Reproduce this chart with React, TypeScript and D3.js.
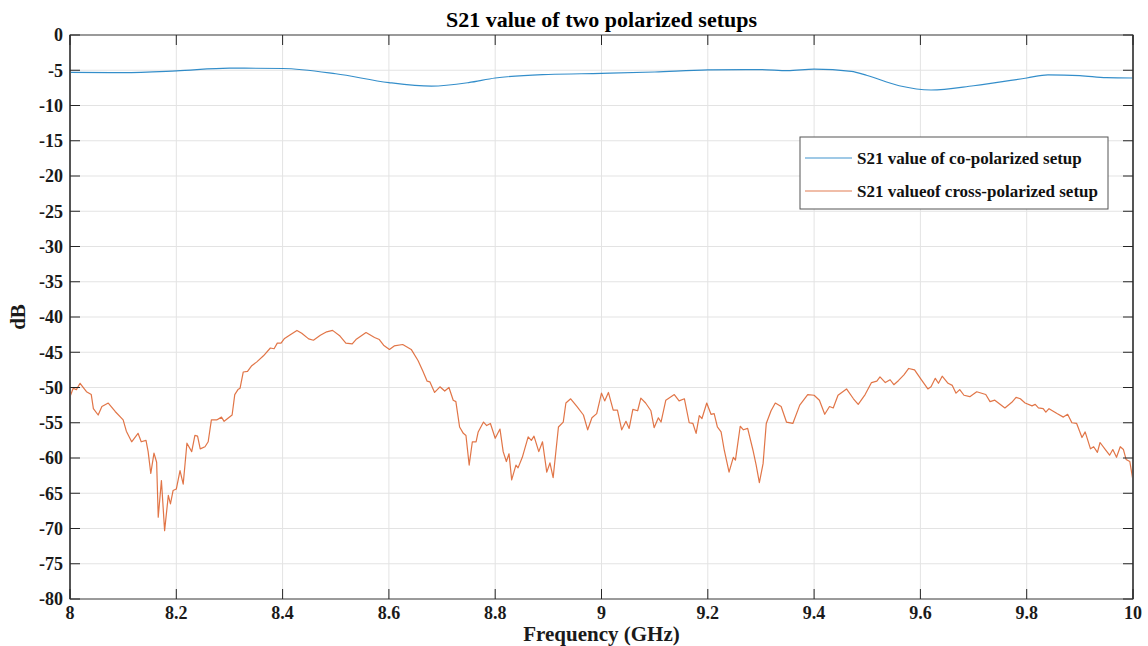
import React from 'react';
import * as d3 from 'd3';

// frequency (GHz), S21 (dB)
const coPolarized: [number, number][] = [
    [8.0, -5.3], [8.1, -5.35], [8.2, -5.1], [8.3, -4.7], [8.4, -4.75], [8.5, -5.5],
    [8.6, -6.75], [8.68, -7.25], [8.75, -6.75], [8.8, -6.1], [8.9, -5.6], [9.0, -5.45],
    [9.1, -5.25], [9.2, -4.95], [9.3, -4.9], [9.35, -5.05], [9.4, -4.85], [9.47, -5.15],
    [9.5, -5.75], [9.56, -7.2], [9.62, -7.8], [9.7, -7.2], [9.8, -6.1], [9.84, -5.65],
    [9.9, -5.75], [9.95, -6.05], [10.0, -6.1],
];

const crossPolarized: [number, number][] = [
    [8.000, -51.3], [8.006, -50.1], [8.012, -50.3], [8.019, -49.4], [8.024, -49.9], [8.031, -50.6],
    [8.040, -51.0], [8.044, -53.0], [8.053, -53.9], [8.060, -52.7], [8.072, -52.2], [8.085, -53.4],
    [8.100, -54.6], [8.106, -56.2], [8.116, -57.7], [8.128, -56.5], [8.134, -57.7], [8.143, -57.5],
    [8.147, -59.1], [8.152, -62.2], [8.158, -59.3], [8.163, -60.6], [8.166, -68.4], [8.172, -63.2],
    [8.178, -70.3], [8.185, -65.3], [8.189, -66.5], [8.194, -64.6], [8.200, -64.4], [8.207, -61.8],
    [8.213, -63.7], [8.220, -57.9], [8.229, -59.1], [8.235, -56.8], [8.240, -56.9], [8.245, -58.7],
    [8.254, -58.4], [8.260, -57.7], [8.266, -54.6], [8.276, -54.6], [8.285, -54.2], [8.290, -54.8],
    [8.305, -53.9], [8.310, -51.0], [8.316, -50.3], [8.320, -50.1], [8.326, -47.8], [8.334, -47.7],
    [8.342, -46.9], [8.351, -46.4], [8.364, -45.5], [8.377, -44.4], [8.384, -44.5], [8.390, -43.7],
    [8.397, -43.7], [8.403, -43.1], [8.413, -42.6], [8.427, -41.9], [8.436, -42.3], [8.449, -43.1],
    [8.458, -43.3], [8.471, -42.6], [8.483, -42.1], [8.494, -41.9], [8.508, -42.7], [8.519, -43.7],
    [8.531, -43.8], [8.538, -43.2], [8.557, -42.2], [8.573, -42.9], [8.582, -43.2], [8.590, -44.0],
    [8.601, -44.6], [8.610, -44.1], [8.626, -43.9], [8.642, -44.6], [8.655, -46.2], [8.664, -47.7],
    [8.672, -49.1], [8.677, -49.2], [8.686, -50.7], [8.696, -49.9], [8.705, -50.5], [8.713, -50.0],
    [8.721, -51.8], [8.726, -52.0], [8.733, -55.6], [8.740, -56.5], [8.745, -56.8], [8.751, -61.0],
    [8.757, -57.7], [8.764, -57.7], [8.768, -56.3], [8.778, -54.9], [8.784, -55.4], [8.791, -55.1],
    [8.800, -57.2], [8.809, -55.9], [8.815, -59.1], [8.821, -60.5], [8.826, -59.4], [8.831, -63.1],
    [8.839, -61.0], [8.843, -61.4], [8.851, -59.9], [8.862, -57.0], [8.868, -57.5], [8.873, -56.9],
    [8.882, -59.1], [8.889, -57.7], [8.897, -62.0], [8.903, -60.7], [8.909, -62.8], [8.919, -55.6],
    [8.928, -54.9], [8.933, -52.2], [8.942, -51.6], [8.954, -52.7], [8.966, -53.9], [8.974, -56.0],
    [8.982, -54.3], [8.991, -53.7], [9.000, -50.8], [9.006, -51.9], [9.013, -50.7], [9.022, -53.2],
    [9.030, -53.2], [9.038, -56.0], [9.046, -54.8], [9.052, -55.8], [9.059, -53.1], [9.068, -53.3],
    [9.074, -51.5], [9.083, -52.2], [9.093, -53.3], [9.099, -55.7], [9.107, -54.3], [9.112, -54.9],
    [9.121, -51.8], [9.137, -51.0], [9.146, -51.9], [9.156, -51.6], [9.165, -55.0], [9.172, -55.1],
    [9.178, -56.5], [9.184, -54.0], [9.189, -54.4], [9.198, -52.2], [9.206, -53.8], [9.212, -53.7],
    [9.218, -55.6], [9.225, -56.3], [9.231, -58.9], [9.240, -62.0], [9.248, -59.9], [9.252, -60.3],
    [9.261, -55.5], [9.267, -56.0], [9.275, -55.8], [9.285, -58.9], [9.291, -61.0], [9.297, -63.5],
    [9.304, -60.8], [9.310, -55.1], [9.319, -53.3], [9.327, -52.2], [9.338, -52.7], [9.348, -54.9],
    [9.360, -55.1], [9.373, -52.5], [9.388, -51.0], [9.400, -51.1], [9.410, -51.8], [9.420, -53.8],
    [9.429, -52.7], [9.436, -52.9], [9.445, -51.1], [9.461, -50.2], [9.474, -51.6], [9.483, -52.4],
    [9.496, -51.0], [9.508, -49.3], [9.518, -49.1], [9.524, -48.5], [9.534, -49.3], [9.543, -48.9],
    [9.550, -49.6], [9.559, -49.0], [9.569, -48.2], [9.578, -47.3], [9.589, -47.5], [9.600, -48.7],
    [9.614, -50.2], [9.620, -49.9], [9.628, -48.7], [9.634, -49.4], [9.641, -48.4], [9.652, -49.4],
    [9.660, -49.7], [9.667, -50.8], [9.674, -50.3], [9.682, -51.1], [9.693, -51.3], [9.706, -50.6],
    [9.723, -51.0], [9.731, -52.0], [9.740, -51.8], [9.759, -52.9], [9.772, -52.1], [9.780, -51.4],
    [9.788, -51.6], [9.797, -52.2], [9.810, -52.6], [9.816, -52.4], [9.822, -52.9], [9.831, -53.0],
    [9.836, -53.5], [9.842, -53.0], [9.857, -53.7], [9.869, -54.2], [9.877, -53.8], [9.885, -55.0],
    [9.894, -55.1], [9.904, -57.1], [9.910, -56.3], [9.920, -58.7], [9.926, -58.4], [9.933, -59.2],
    [9.938, -57.8], [9.948, -58.8], [9.956, -59.6], [9.962, -58.8], [9.969, -59.9], [9.976, -58.4],
    [9.982, -58.8], [9.987, -60.2], [9.994, -60.5], [10.000, -63.2],
];

const xTicks = [8, 8.2, 8.4, 8.6, 8.8, 9, 9.2, 9.4, 9.6, 9.8, 10];
const yTicks = [0, -5, -10, -15, -20, -25, -30, -35, -40, -45, -50, -55, -60, -65, -70, -75, -80];
const seriesNames = ['S21 value of co-polarized setup', 'S21 valueof cross-polarized setup'];
const seriesColors = ['#0072BD', '#D95319'];

const W = 1148, H = 646;
const margin = { left: 70, right: 15, top: 35, bottom: 47 };
const font = '"Liberation Serif", "Times New Roman", serif';
const axisColor = '#262626';

export default function App() {
    const x = d3.scaleLinear().domain([8, 10]).range([margin.left, W - margin.right]);
    const y = d3.scaleLinear().domain([-80, 0]).range([H - margin.bottom, margin.top]);
    const [x0, x1] = x.range();
    const [y0, y1] = y.range(); // y0 bottom, y1 top

    const coLine = d3.line<[number, number]>().x(d => x(d[0])).y(d => y(d[1])).curve(d3.curveMonotoneX);
    const crossLine = d3.line<[number, number]>().x(d => x(d[0])).y(d => y(d[1]));

    const tickLen = 10;
    const legend = { x: 800, y: 137, w: 308, h: 72 };

    return (
        <svg width={W} height={H} style={{ position: 'absolute', left: 0, top: 0, background: '#fff' }} fontFamily={font}>
            {/* grid */}
            <g stroke="#e3e3e3" strokeWidth={1}>
                {xTicks.map(t => <line key={'gx' + t} x1={x(t)} x2={x(t)} y1={y0} y2={y1} />)}
                {yTicks.map(t => <line key={'gy' + t} x1={x0} x2={x1} y1={y(t)} y2={y(t)} />)}
            </g>

            {/* series */}
            <path d={coLine(coPolarized) || ''} fill="none" stroke={seriesColors[0]} strokeWidth={1.2} opacity={0.8} />
            <path d={crossLine(crossPolarized) || ''} fill="none" stroke={seriesColors[1]} strokeWidth={1.2} opacity={0.8} strokeLinejoin="round" />

            {/* axes box + inward ticks */}
            <g stroke={axisColor} strokeWidth={1} fill="none">
                <rect x={x0} y={y1} width={x1 - x0} height={y0 - y1} stroke="#444" />
                <line x1={x0} x2={x0} y1={y1} y2={y0} strokeWidth={2} stroke="#555" />
                <line x1={x1} x2={x1} y1={y1} y2={y0} strokeWidth={2} stroke="#555" />
                {xTicks.map(t => <line key={'tb' + t} x1={x(t)} x2={x(t)} y1={y0} y2={y0 - tickLen} />)}
                {xTicks.map(t => <line key={'tt' + t} x1={x(t)} x2={x(t)} y1={y1} y2={y1 + tickLen} />)}
                {yTicks.map(t => <line key={'tl' + t} x1={x0} x2={x0 + tickLen} y1={y(t)} y2={y(t)} />)}
                {yTicks.map(t => <line key={'tr' + t} x1={x1} x2={x1 - tickLen} y1={y(t)} y2={y(t)} />)}
            </g>

            {/* tick labels */}
            <g fill="#1a1a1a" fontWeight="bold" fontSize={18}>
                {xTicks.map(t => (
                    <text key={'lx' + t} x={x(t)} y={y0 + 20} textAnchor="middle">{String(+t.toFixed(1))}</text>
                ))}
                {yTicks.map(t => (
                    <text key={'ly' + t} x={x0 - 7} y={y(t)} dy="0.35em" textAnchor="end">{t}</text>
                ))}
            </g>

            {/* titles */}
            <text x={(x0 + x1) / 2} y={27} textAnchor="middle" fontWeight="bold" fontSize={22} fill="#000">
                S21 value of two polarized setups
            </text>
            <text x={(x0 + x1) / 2} y={y0 + 42} textAnchor="middle" fontWeight="bold" fontSize={21} fill="#1a1a1a">
                Frequency (GHz)
            </text>
            <text transform={`translate(25,${(y0 + y1) / 2}) rotate(-90)`} textAnchor="middle" fontWeight="bold" fontSize={21} fill="#1a1a1a">
                dB
            </text>

            {/* legend */}
            <g>
                <rect x={legend.x} y={legend.y} width={legend.w} height={legend.h} fill="#fff" stroke="#555" strokeWidth={1} />
                {seriesNames.map((name, i) => {
                    const ly = legend.y + 21 + i * 33;
                    return (
                        <g key={name}>
                            <line x1={legend.x + 5} x2={legend.x + 52} y1={ly} y2={ly} stroke={seriesColors[i]} strokeWidth={1.2} opacity={0.75} />
                            <text x={legend.x + 57} y={ly} dy="0.35em" fontSize={17} fontWeight="bold" fill="#111">{name}</text>
                        </g>
                    );
                })}
            </g>
        </svg>
    );
}
